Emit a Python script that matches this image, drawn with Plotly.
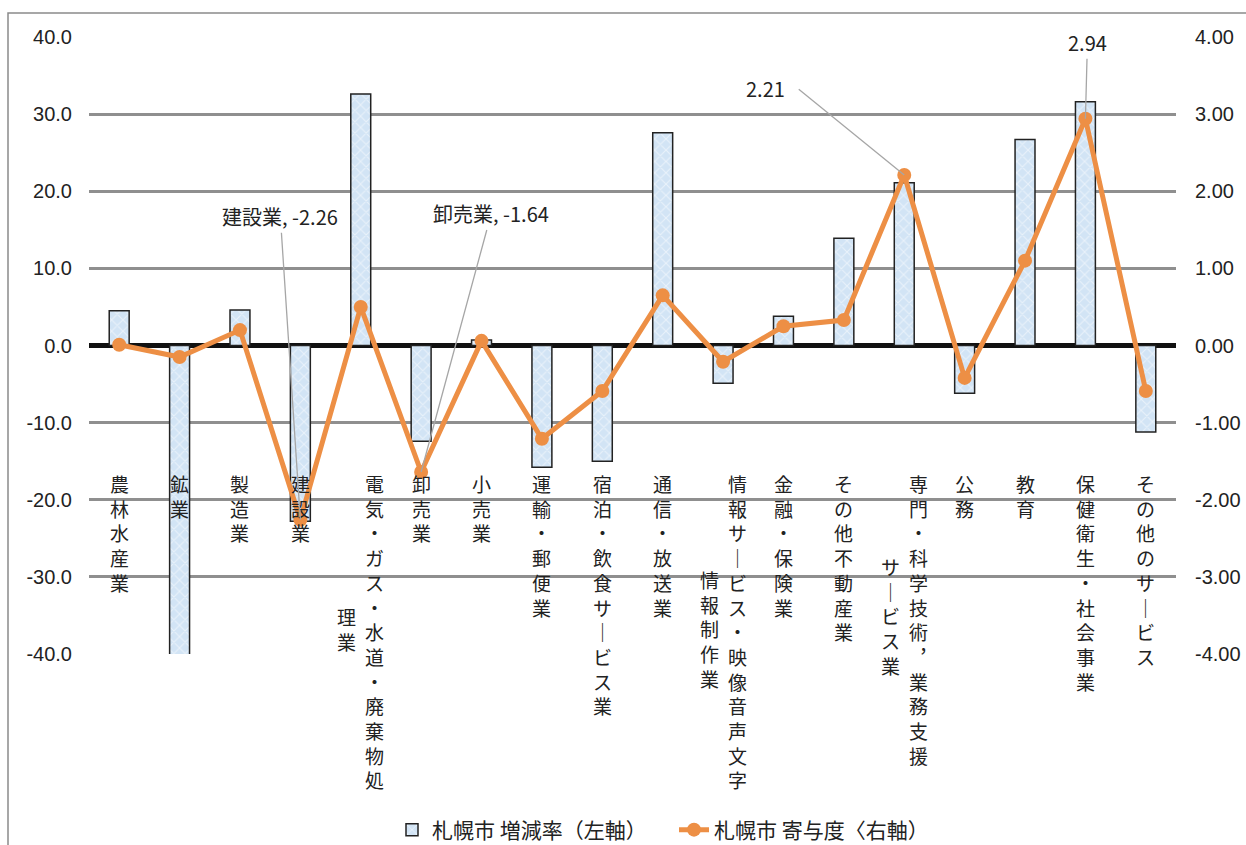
import plotly.graph_objects as go

# 産業分類
categories = ["農林水産業", "鉱業", "製造業", "建設業", "電気・ガス・水道・廃棄物処理業",
              "卸売業", "小売業", "運輸・郵便業", "宿泊・飲食サービス業", "通信・放送業",
              "情報サービス・映像音声文字情報制作業", "金融・保険業", "その他不動産業",
              "専門・科学技術，業務支援サービス業", "公務", "教育", "保健衛生・社会事業",
              "その他のサービス"]
# 縦書きラベル（"/" で列を折り返す）
tick_labels = ["農林水産業", "鉱業", "製造業", "建設業", "電気・ガス・水道・廃棄物処/理業",
               "卸売業", "小売業", "運輸・郵便業", "宿泊・飲食サービス業", "通信・放送業",
               "情報サービス・映像音声文字/情報制作業", "金融・保険業", "その他不動産業",
               "専門・科学技術，業務支援/サービス業", "公務", "教育", "保健衛生・社会事業",
               "その他のサービス"]
rate = [4.5, -40.3, 4.6, -22.8, 32.6, -12.4, 0.7, -15.8, -15.0, 27.6,
        -4.9, 3.8, 13.9, 21.1, -6.2, 26.7, 31.6, -11.2]
contrib = [0.01, -0.15, 0.20, -2.26, 0.50, -1.64, 0.06, -1.21, -0.59, 0.65,
           -0.21, 0.25, 0.33, 2.21, -0.42, 1.10, 2.94, -0.59]

left_ticks = [40, 30, 20, 10, 0, -10, -20, -30, -40]
left_ticktext = ["40.0", "30.0", "20.0", "10.0", "0.0", "-10.0", "-20.0", "-30.0", "-40.0"]
right_ticks = [4, 3, 2, 1, 0, -1, -2, -3, -4]
right_ticktext = ["4.00", "3.00", "2.00", "1.00", "0.00", "-1.00", "-2.00", "-3.00", "-4.00"]

# ラベルを付ける点: (index, 名前を付けるか, 文字位置 dx, dy, 引出線の折れ点 dx)
labelled = [(3, True, -20, -303, None), (5, True, 70, -258, None),
            (13, False, -139, -87, -107), (16, False, 2, -76, None)]

W, H = 1246, 845
L, R, T, B = 89, 70, 37, 191
pw, ph = W - L - R, H - T - B
ORANGE = "#ed8f45"
LEADER = "#a6a6a6"
JP = "Noto Sans CJK JP"

fig = go.Figure()
fig.add_trace(go.Bar(
    x=categories, y=rate, name="札幌市 増減率（左軸）", width=0.33,
    marker=dict(color="#d4e6f6", line=dict(color="#222222", width=1.5),
                pattern=dict(shape="x", fgcolor="white", bgcolor="#d2e4f5", size=8, solidity=0.25)),
))
fig.add_trace(go.Scatter(
    x=categories, y=contrib, yaxis="y2", mode="lines+markers", name="札幌市 寄与度〈右軸）",
    line=dict(color=ORANGE, width=5), marker=dict(size=14, color=ORANGE),
))

VERT = {"ー": "｜", "，": "︐"}


def vert(s):
    return "<br>".join(VERT.get(ch, ch) for ch in s)


unit_px = ph / 80.0
line_px = 19 * 1.3
top_y = -15.9
cat_font = dict(family=JP, size=19, color="#222")
annos = []
for cat, lab in zip(categories, tick_labels):
    cols = lab.split("/")
    if len(cols) == 1:
        annos.append(dict(x=cat, y=top_y, xref="x", yref="y", text=vert(cols[0]), showarrow=False,
                          yanchor="top", xanchor="center", font=cat_font))
    else:
        annos.append(dict(x=cat, y=top_y, xref="x", yref="y", text=vert(cols[0]), showarrow=False,
                          yanchor="top", xanchor="center", xshift=14, font=cat_font))
        mid = top_y - len(cols[0]) * line_px / 2 / unit_px
        annos.append(dict(x=cat, y=mid, xref="x", yref="y", text=vert(cols[1]), showarrow=False,
                          yanchor="middle", xanchor="center", xshift=-14, font=cat_font))

lbl_font = dict(family=JP, size=20, color="#222")
for i, named, ax, ay, elbow in labelled:
    txt = f"{categories[i]}, {contrib[i]:.2f}" if named else f"{contrib[i]:.2f}"
    if elbow is None:
        annos.append(dict(x=categories[i], y=contrib[i], xref="x", yref="y2", text=txt,
                          showarrow=True, arrowhead=0, arrowwidth=1.3, arrowcolor=LEADER,
                          ax=ax, ay=ay, standoff=0, font=lbl_font))
    else:
        # 折れ点から点までの引出線と、その左に置く文字
        annos.append(dict(x=categories[i], y=contrib[i], xref="x", yref="y2", text="",
                          showarrow=True, arrowhead=0, arrowwidth=1.3, arrowcolor=LEADER,
                          ax=elbow, ay=ay, standoff=0))
        annos.append(dict(x=categories[i], y=contrib[i], xref="x", yref="y2", text=txt,
                          showarrow=False, xshift=ax, yshift=-ay, font=lbl_font))

fig.update_layout(
    width=W, height=H, margin=dict(l=L, r=R, t=T, b=B, autoexpand=False),
    paper_bgcolor="white", plot_bgcolor="white",
    font=dict(family="Liberation Sans", size=20, color="#222"),
    bargap=0.67,
    xaxis=dict(range=[-0.5, len(categories) - 0.5], autorange=False,
               showticklabels=False, showgrid=False, ticks="", showline=False, zeroline=False),
    yaxis=dict(range=[-40, 40], tickvals=left_ticks, ticktext=left_ticktext, automargin=False,
               showgrid=True, gridcolor="#8f8f8f", gridwidth=2.5,
               zeroline=True, zerolinecolor="#111", zerolinewidth=4.5,
               ticks="", ticklabelstandoff=16),
    yaxis2=dict(range=[-4, 4], tickvals=right_ticks, ticktext=right_ticktext, automargin=False,
                overlaying="y", side="right",
                showgrid=False, zeroline=False, ticks="", ticklabelstandoff=18),
    legend=dict(orientation="h", x=(392 - L) / pw, xanchor="left",
                y=-(830 - (T + ph)) / ph, yanchor="middle",
                font=dict(family=JP, size=21, color="#222"), bgcolor="rgba(0,0,0,0)",
                entrywidth=237, entrywidthmode="pixels"),
    annotations=annos,
    shapes=[dict(type="rect", xref="paper", yref="paper",
                 x0=(8 - L) / pw, x1=(1260 - L) / pw,
                 y0=1 - (860 - T) / ph, y1=1 - (13 - T) / ph,
                 line=dict(color="#8a8a8a", width=1.5), fillcolor="rgba(0,0,0,0)")],
)

# ページ余白を消して図を左上に合わせる
fig.write_html("out.html", config={"displayModeBar": False},
               post_script="document.body.style.margin='0';")
